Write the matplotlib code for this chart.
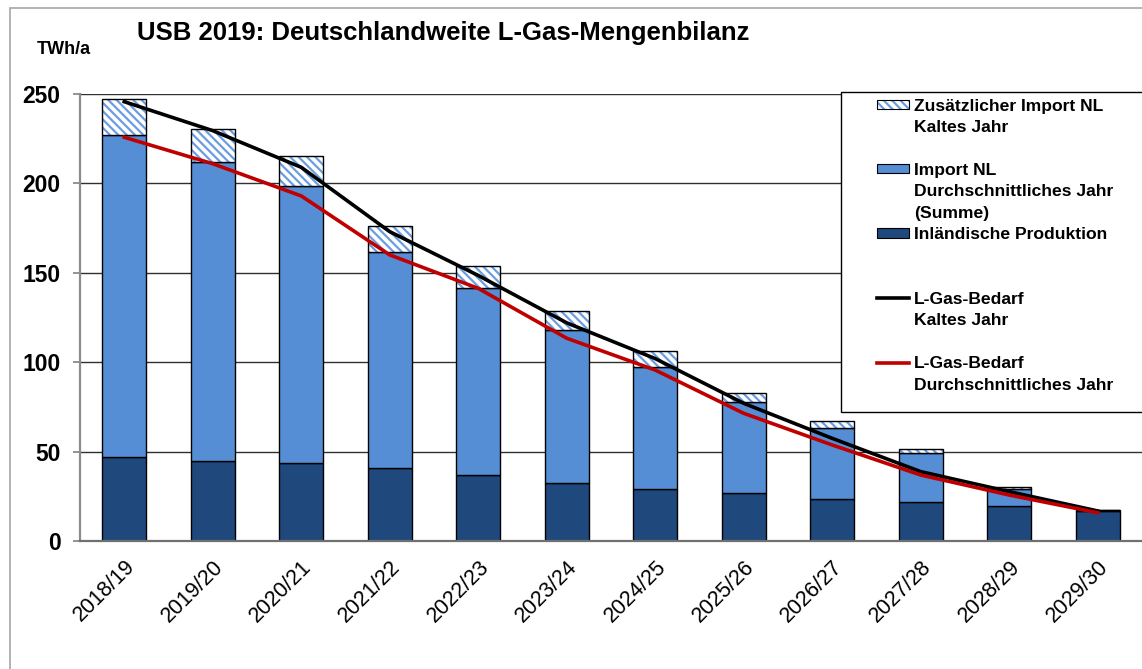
"""
USB 2019: Deutschlandweite L-Gas-Mengenbilanz
Stacked bars (production / import) with the demand lines on top.
"""

import matplotlib.pyplot as plt
import matplotlib.transforms as mtransforms
from matplotlib.patches import Patch, Rectangle
from matplotlib.lines import Line2D
import numpy as np

# data (TWh/a)
years = ['2018/19', '2019/20', '2020/21', '2021/22', '2022/23', '2023/24',
         '2024/25', '2025/26', '2026/27', '2027/28', '2028/29', '2029/30']
inland = [47.0, 44.7, 43.6, 40.6, 36.7, 32.2, 29.3, 26.7, 23.7, 22.0, 19.6, 17.0]
import_avg = [180.0, 167.1, 154.9, 120.9, 105.0, 85.8, 68.2, 51.2, 39.3, 27.0, 9.7, 0.3]
import_extra = [20.2, 18.4, 16.8, 14.7, 12.1, 10.8, 8.8, 4.7, 3.9, 2.5, 1.1, 0.2]
demand_cold = [245.7, 229.5, 209.0, 173.0, 148.5, 122.0, 102.0, 77.0, 57.4, 38.8, 27.6, 16.8]
demand_avg = [225.8, 211.0, 193.0, 160.0, 141.3, 113.4, 95.6, 71.4, 53.7, 36.9, 25.7, 15.8]
yticks = [0, 50, 100, 150, 200, 250]

DARK = '#1f497d'
MID = '#558ed5'
HATCH = '#6a9ee0'

W, H = 1142, 669
plt.rcParams['font.family'] = ['Liberation Sans', 'DejaVu Sans']
plt.rcParams['hatch.linewidth'] = 1.6

fig = plt.figure(figsize=(W / 100, H / 100), dpi=100)
ax = fig.add_axes([80 / W, 1 - 541 / H, (W - 80) / W, (541 - 94) / H])

x = np.arange(len(years))
inland = np.array(inland)
import_avg = np.array(import_avg)
import_extra = np.array(import_extra)
avg_top = inland + import_avg

ax.bar(x, inland, width=0.5, color=DARK, edgecolor='black', linewidth=1, zorder=2)
ax.bar(x, import_avg, bottom=inland, width=0.5, color=MID, edgecolor='black',
       linewidth=1, zorder=2)
ax.bar(x, import_extra, bottom=avg_top, width=0.5, color='white', edgecolor=HATCH,
       hatch='\\\\\\\\', linewidth=0, zorder=2)
ax.bar(x, import_extra, bottom=avg_top, width=0.5, fill=False, edgecolor='black',
       linewidth=1, zorder=2)

ax.plot(x, demand_cold, color='black', linewidth=2.6, zorder=4)
ax.plot(x, demand_avg, color='#c00000', linewidth=2.6, zorder=4)

ax.set_xlim(-0.5, len(years) - 0.5)
ax.set_ylim(0, 250)
ax.set_yticks(yticks)
ax.set_xticks(x)
ax.set_xticklabels(years, rotation=45, ha='right', va='top', rotation_mode='anchor',
                   fontsize=15.5)
shift = mtransforms.ScaledTranslation(-3 / 72, 0, fig.dpi_scale_trans)
for lbl in ax.get_xticklabels():
    lbl.set_transform(lbl.get_transform() + shift)
for lbl in ax.get_yticklabels():
    lbl.set_fontweight('bold')
ax.tick_params(axis='y', length=5, width=1.2, color='#808080', pad=9, labelsize=16.5)
ax.tick_params(axis='x', length=0, pad=11)

ax.yaxis.grid(True, color='#303030', linewidth=1)
ax.set_axisbelow(True)
for side in ['top', 'right']:
    ax.spines[side].set_visible(False)
ax.spines['left'].set_color('#8c8c8c')
ax.spines['left'].set_linewidth(1.6)
ax.spines['bottom'].set_color('#707070')
ax.spines['bottom'].set_linewidth(1.6)

# legend box (runs past the right edge like the original)
ax.add_patch(Rectangle((841 / W, 1 - 412 / H), 400 / W, 320 / H, transform=fig.transFigure,
                       facecolor='white', edgecolor='black', linewidth=1,
                       clip_on=False, zorder=3))

blank = Patch(facecolor='none', edgecolor='none')
hatch_h = (Patch(facecolor='white', edgecolor=HATCH, hatch='\\\\\\\\', linewidth=0),
           Patch(fill=False, edgecolor='black', linewidth=0.8))
handles = [hatch_h, blank, blank,
           Patch(facecolor=MID, edgecolor='black', linewidth=0.8), blank, blank,
           Patch(facecolor=DARK, edgecolor='black', linewidth=0.8), blank, blank,
           Line2D([], [], color='black', linewidth=2.6), blank, blank,
           Line2D([], [], color='#c00000', linewidth=2.6), blank]
labels = ['Zusätzlicher Import NL', 'Kaltes Jahr', ' ',
          'Import NL', 'Durchschnittliches Jahr', '(Summe)',
          'Inländische Produktion', ' ', ' ',
          'L-Gas-Bedarf', 'Kaltes Jahr', ' ',
          'L-Gas-Bedarf', 'Durchschnittliches Jahr']
leg = ax.legend(handles, labels, loc='upper left', bbox_to_anchor=(877 / W, 1 - 98.5 / H),
                bbox_transform=fig.transFigure, frameon=False, borderpad=0,
                borderaxespad=0, labelspacing=0.37, handlelength=1.85, handleheight=0.45,
                handletextpad=0.25, prop={'weight': 'bold', 'size': 12.6})
leg.set_zorder(6)

fig.text(137 / W, 1 - 33 / H, 'USB 2019: Deutschlandweite L-Gas-Mengenbilanz',
         fontsize=18.5, fontweight='bold', ha='left', va='center')
fig.text(37 / W, 1 - 50 / H, 'TWh/a', fontsize=13, fontweight='bold',
         ha='left', va='center')

# outer chart frame
fig.add_artist(Rectangle((10 / W, -0.05), 1.1, 1.05 - 8 / H, transform=fig.transFigure,
                         fill=False, edgecolor='#a6a6a6', linewidth=1.2))

fig.savefig('out.png', dpi=100)
